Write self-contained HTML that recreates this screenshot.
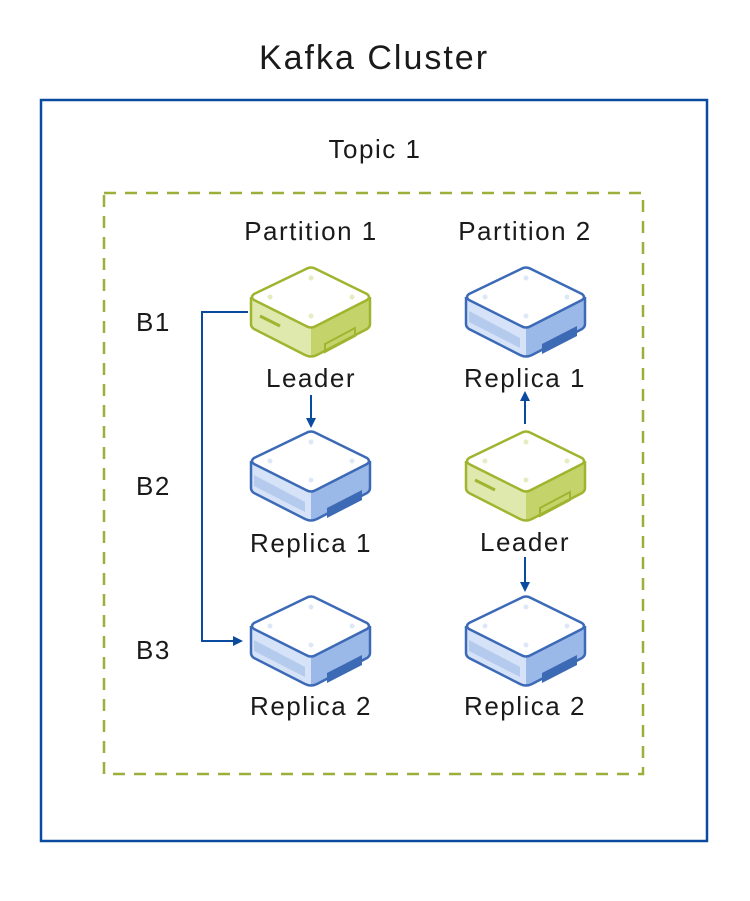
<!DOCTYPE html>
<html><head><meta charset="utf-8"><style>
html,body{margin:0;padding:0;background:#fff;}
svg{display:block;}
text{font-family:"Liberation Sans",sans-serif;fill:#1a1a1a;letter-spacing:1.5px;}
</style></head><body>
<svg width="750" height="901" viewBox="0 0 750 901" xmlns="http://www.w3.org/2000/svg">
<defs>
<marker id="ah" markerWidth="10" markerHeight="10" refX="8" refY="5" orient="auto" markerUnits="userSpaceOnUse">
<path d="M0,0 L10,5 L0,10 z" fill="#0a4a9f"/>
</marker>
<g id="green">
<path d="M1,31 L61,62 L61,90 Q58,91 55,89 L4,63 Q1,61 1,58 Z" fill="#dfe8ad"/>
<path d="M61,62 L120,31 L120,58 Q120,61 117,63 L67,89 Q64,91 61,90 Z" fill="#c5d46a"/>
<path d="M56,3 Q61,0 66,3 L117,28 Q121,31 117,34 L66,60 Q61,63 56,60 L4,34 Q0,31 4,28 Z" fill="#fff" stroke="#a1b42f" stroke-width="2.5" stroke-linejoin="round"/>
<path d="M1,31 L1,58 Q1,61 4,63 L55,89 Q61,92 67,89 L117,63 Q120,61 120,58 L120,31" fill="none" stroke="#a1b42f" stroke-width="2.5" stroke-linejoin="round"/>
<path d="M10,50 L30,60" stroke="#a1b42f" stroke-width="3"/>
<path d="M75,78 L105,62 L105,70 L75,86 Z" fill="none" stroke="#a1b42f" stroke-width="2"/>
<circle cx="61" cy="12" r="2.5" fill="#e6ecc0"/><circle cx="20" cy="31" r="2.5" fill="#e6ecc0"/><circle cx="102" cy="31" r="2.5" fill="#e6ecc0"/><circle cx="61" cy="50" r="2.5" fill="#e6ecc0"/>
</g>
<g id="blue">
<path d="M1,31 L61,62 L61,90 Q58,91 55,89 L4,63 Q1,61 1,58 Z" fill="#d5e2f7"/>
<path d="M61,62 L120,31 L120,58 Q120,61 117,63 L67,89 Q64,91 61,90 Z" fill="#9bb9e8"/>
<path d="M4,45 L55,72 L55,82 L4,56 Z" fill="#b5cbee"/>
<path d="M56,3 Q61,0 66,3 L117,28 Q121,31 117,34 L66,60 Q61,63 56,60 L4,34 Q0,31 4,28 Z" fill="#fff" stroke="#3c6ab7" stroke-width="2.5" stroke-linejoin="round"/>
<path d="M1,31 L1,58 Q1,61 4,63 L55,89 Q61,92 67,89 L117,63 Q120,61 120,58 L120,31" fill="none" stroke="#3c6ab7" stroke-width="2.5" stroke-linejoin="round"/>
<path d="M77,78 L112,60 L112,70 L77,88 Z" fill="#3d6ab5"/>
<circle cx="61" cy="12" r="2.5" fill="#dde7f7"/><circle cx="20" cy="31" r="2.5" fill="#dde7f7"/><circle cx="102" cy="31" r="2.5" fill="#dde7f7"/><circle cx="61" cy="50" r="2.5" fill="#dde7f7"/>
</g>
</defs>

<text x="374" y="69" font-size="34" text-anchor="middle" style="letter-spacing:2px">Kafka Cluster</text>
<rect x="41" y="100" width="666" height="741" fill="none" stroke="#0a4a9f" stroke-width="2.5"/>
<text x="375" y="158" font-size="26" text-anchor="middle">Topic 1</text>
<rect x="104" y="193" width="539" height="581" fill="none" stroke="#9bb03a" stroke-width="2.5" stroke-dasharray="12 9"/>

<text x="311" y="240" font-size="26" text-anchor="middle">Partition 1</text>
<text x="525" y="240" font-size="26" text-anchor="middle">Partition 2</text>

<text x="136" y="331" font-size="26">B1</text>
<text x="136" y="495" font-size="26">B2</text>
<text x="136" y="659" font-size="26">B3</text>

<use href="#green" x="250" y="266"/>
<use href="#blue" x="250" y="430"/>
<use href="#blue" x="250" y="595"/>
<use href="#blue" x="465" y="266"/>
<use href="#green" x="465" y="430"/>
<use href="#blue" x="465" y="595"/>

<text x="311" y="387" font-size="26" text-anchor="middle">Leader</text>
<text x="311" y="552" font-size="26" text-anchor="middle">Replica 1</text>
<text x="311" y="715" font-size="26" text-anchor="middle">Replica 2</text>
<text x="525" y="387" font-size="26" text-anchor="middle">Replica 1</text>
<text x="525" y="551" font-size="26" text-anchor="middle">Leader</text>
<text x="525" y="715" font-size="26" text-anchor="middle">Replica 2</text>

<g fill="none" stroke="#0a4a9f" stroke-width="2">
<path d="M248,312 L202,312 L202,641 L241,641" marker-end="url(#ah)"/>
<path d="M311,395 L311,426" marker-end="url(#ah)"/>
<path d="M525,424 L525,393" marker-end="url(#ah)"/>
<path d="M525,557 L525,590" marker-end="url(#ah)"/>
</g>
</svg>
</body></html>
